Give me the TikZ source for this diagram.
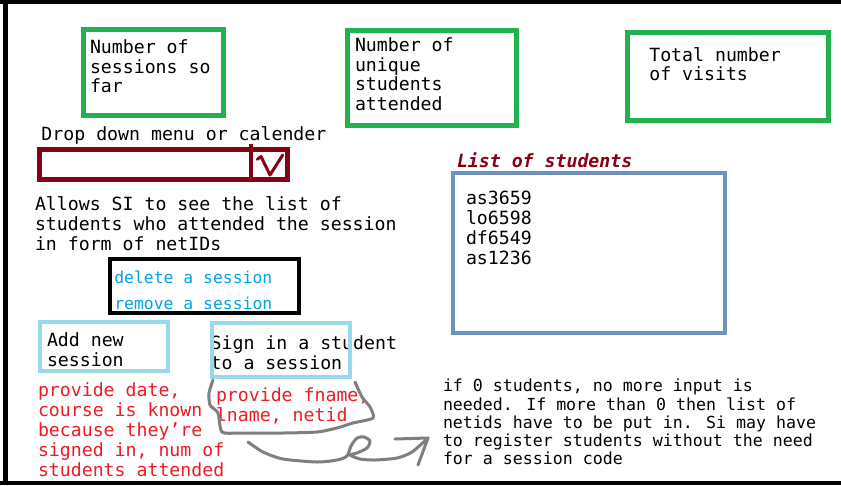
\documentclass[tikz,border=0pt]{standalone}
\usepackage{fontspec}
\newfontfamily\gmono{DejaVu Sans Mono}
\definecolor{pgreen}{HTML}{22B14C}
\definecolor{pdred}{HTML}{880015}
\definecolor{pblue}{HTML}{00A2E8}
\definecolor{plblue}{HTML}{99D9EA}
\definecolor{plist}{HTML}{7092BE}
\definecolor{pred}{HTML}{ED1C24}
\definecolor{pgray}{HTML}{7F7F7F}
\newcommand\fl{\rule{0pt}{14pt}}
\tikzset{
  boxbase/.style={draw, inner sep=0pt, outer sep=0pt, anchor=north west},
  gbox/.style={boxbase, pgreen, line width=5pt},
  rbox/.style={boxbase, pdred, line width=5pt},
  kbox/.style={boxbase, black, line width=4pt},
  lbbox/.style={boxbase, plblue, line width=4pt},
  lsbox/.style={boxbase, plist, line width=3.7pt},
  txt/.style={anchor=north west, inner sep=0pt, outer sep=0pt, align=left,
    font=\gmono\fontsize{18.2}{19.8}\selectfont},
  smalltxt/.style={txt, font=\gmono\fontsize{16.6}{18.3}\selectfont},
  bluetxt/.style={txt, text=pblue, font=\gmono\fontsize{16.4}{26}\selectfont},
  redtxt/.style={txt, text=pred, font=\gmono\fontsize{18.2}{20}\selectfont},
  hand/.style={pgray, line width=3pt, line cap=round, line join=round},
}
\begin{document}
\begin{tikzpicture}[x=1pt,y=-1pt]
\useasboundingbox[fill=white] (0,0) rectangle (841,485);
% frame
\fill[black] (0,0) rectangle (841,4.3);
\fill[black] (3,0) rectangle (8,485);
\fill[black] (0,481) rectangle (841,485);

% top statistic boxes
\node[gbox, minimum width=140pt, minimum height=86pt] (b1) at (83.5,29.5) {};
\node[txt] (t1) at (90,39.3) {\fl Number of\\sessions so\\far};
\node[gbox, minimum width=169pt, minimum height=95pt] (b2) at (347.5,30.5) {};
\node[txt, font=\gmono\fontsize{18.2}{19.5}\selectfont] (t2) at (355,37.7) {\fl Number of\\unique\\students\\attended};
\node[gbox, minimum width=201pt, minimum height=88pt] (b3) at (627.5,32.5) {};
\node[txt, font=\gmono\fontsize{18.2}{19.2}\selectfont] (t3) at (649.3,47) {\fl Total number\\of visits};

% drop down
\node[txt] (tdrop) at (41.5,126) {\fl Drop down menu or calender};
\node[rbox, minimum width=248pt, minimum height=30pt] (dd) at (39.5,149.5) {};
\coordinate (divtop) at (251,144);
\coordinate (divbot) at (251,179.5);
\draw[pdred, line width=4pt] (divtop) -- (divbot);
\draw[pdred, line width=3pt, line cap=round, line join=round]
  (257.3,159.3) -- (261,156.5) -- (270,175) -- (282.7,155);

\node[txt] (tallow) at (35,196.7) {\fl Allows SI to see the list of\\students who attended the session\\in form of netIDs};

% delete / remove box
\node[kbox, minimum width=189pt, minimum height=54pt] (kb) at (110,259) {};
\node[bluetxt] (tdel) at (114.3,269.3) {\fl delete a session\\remove a session};

% add new session
\node[lbbox, minimum width=128pt, minimum height=49pt] (ab) at (40,322) {};
\node[txt] (tadd) at (47,332.7) {\fl Add new\\session};
\node[redtxt] (tprov) at (38,382.7) {\fl provide date,\\course is known\\because they’re\\signed in, num of\\students attended};

% sign in student
\node[txt] (tsign) at (210.7,335.3) {\fl Sign in a student\\to a session};
\node[lbbox, minimum width=138pt, minimum height=54pt] (sb) at (212,323) {};
\node[redtxt] (tfn) at (216,387.7) {\fl provide fname,\\lname, netid};

% list of students
\node[txt, text=pdred, font=\gmono\bfseries\itshape\fontsize{18.2}{20}\selectfont] (tlist) at (457,152.7) {\fl List of students};
\node[lsbox, minimum width=272pt, minimum height=160pt] (lb) at (453,173) {};
\node[txt, font=\gmono\fontsize{18.2}{20}\selectfont] (tids) at (466,190) {\fl as3659\\lo6598\\df6549\\as1236};

% note
\node[smalltxt] (tnote) at (443,377.7) {\fl if 0 students, no more input is\\needed. If more than 0 then list of\\netids have to be put in. Si may have\\to register students without the need\\for a session code};

% hand drawn outline around fname text
\draw[hand] plot[smooth, tension=0.4] coordinates {
  (213,380) (209,393) (210,405) (218,413) (222,432) (240,433) (283,433)
  (317,432) (337,428) (353,423) (373,418) (370,407) (362,397) (355,382)};

% hand drawn arrow
\coordinate (astart) at (248,442);
\coordinate (atip) at (428,438);
\coordinate (aleft) at (395,439);
\coordinate (adown) at (418,465);
\draw[hand] plot[smooth, tension=0.45] coordinates {
  (248,442) (263,452) (283,459) (317,462) (337,460) (347,456) (351,446)
  (357,438) (364,437) (370,441) (367,448) (357,453) (350,455) (360,459)
  (375,460) (397,458) (412,452) (428,438)};
\draw[hand] (aleft) -- (atip) -- (adown);
\end{tikzpicture}
\end{document}
